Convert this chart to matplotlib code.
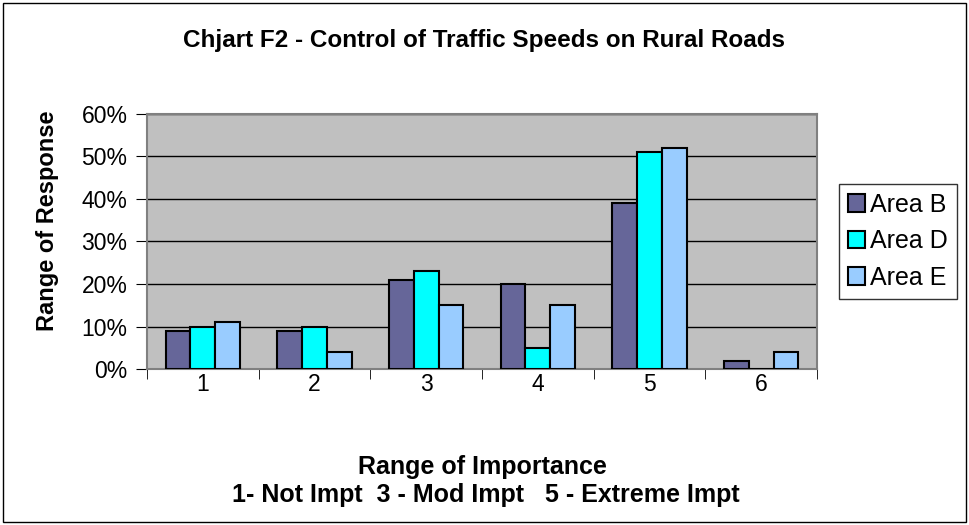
import numpy as np
import matplotlib
matplotlib.use('Agg')
import matplotlib.pyplot as plt
from matplotlib.patches import Rectangle

plt.rcParams['font.family'] = ['Liberation Sans', 'DejaVu Sans']

categories = ['1', '2', '3', '4', '5', '6']
area_b = [9, 9, 21, 20, 39, 2]
area_d = [10, 10, 23, 5, 51, 0]
area_e = [11, 4, 15, 15, 52, 4]
series = [('Area B', area_b, '#666699'),
          ('Area D', area_d, '#00FFFF'),
          ('Area E', area_e, '#99CCFF')]

fig = plt.figure(figsize=(9.69, 5.25), dpi=100)
fig.patches.append(Rectangle((0.003, 0.006), 0.994, 0.988, transform=fig.transFigure,
                             fill=False, edgecolor='black', linewidth=1))
ax = fig.add_axes([147 / 969, 1 - 369 / 525, (817 - 147) / 969, (369 - 114) / 525])
ax.set_facecolor('#C0C0C0')

x = np.arange(len(categories))
w = 1 / 4.5
for i, (name, vals, col) in enumerate(series):
    ax.bar(x + (i - 1) * w, vals, width=w, color=col, edgecolor='black',
           linewidth=1.5, label=name, zorder=3)

ax.set_xlim(-0.5, len(categories) - 0.5)
ax.set_ylim(0, 60)
ax.set_yticks(range(0, 61, 10))
ax.set_yticklabels([f'{v}%' for v in range(0, 61, 10)], fontsize=16.5)
ax.yaxis.grid(True, color='black', linewidth=1, zorder=1)
ax.set_xticks(x)
ax.set_xticklabels(categories, fontsize=16.5)
ax.tick_params(axis='x', length=0, pad=3)
ax.set_xticks(np.arange(-0.5, len(categories), 1), minor=True)
ax.tick_params(axis='x', which='minor', length=7, direction='out', color='black')
ax.tick_params(axis='y', length=8, direction='out', color='black', pad=6)

for s in ax.spines.values():
    s.set_color('#808080')
    s.set_linewidth(1.5)

fig.text(484 / 969, 1 - 41 / 525, 'Chjart F2 - Control of Traffic Speeds on Rural Roads',
         ha='center', va='center', fontsize=17.5, fontweight='bold')
fig.text(48 / 969, 1 - 221 / 525, 'Range of Response', ha='center', va='center',
         rotation=90, fontsize=17, fontweight='bold')
fig.text(482 / 969, 1 - 467 / 525, 'Range of Importance', ha='center', va='center',
         fontsize=18, fontweight='bold')
fig.text(486 / 969, 1 - 495 / 525, '1- Not Impt  3 - Mod Impt   5 - Extreme Impt',
         ha='center', va='center', fontsize=18, fontweight='bold')

leg = fig.legend(loc='upper left', bbox_to_anchor=(839 / 969, 1 - 184 / 525),
                 fontsize=18, frameon=True, fancybox=False, edgecolor='black',
                 handlelength=0.7, handleheight=0.7, handletextpad=0.2,
                 borderpad=0.35, labelspacing=0.5, borderaxespad=0)
leg.get_frame().set_linewidth(1)

fig.savefig('out.png', dpi=100)
